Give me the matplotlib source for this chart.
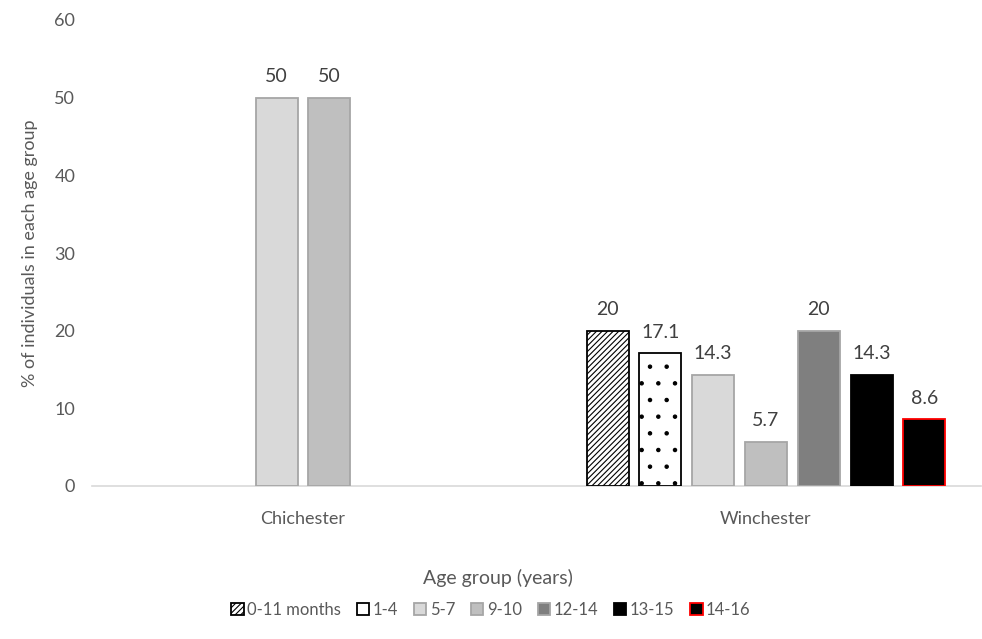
import numpy as np
import matplotlib
matplotlib.use("Agg")
import matplotlib.pyplot as plt

plt.rcParams['font.family'] = ['Lato', 'DejaVu Sans']
plt.rcParams['hatch.linewidth'] = 0.8

# data
sites = ["Chichester", "Winchester"]
age_groups = ["0-11 months", "1-4", "5-7", "9-10", "12-14", "13-15", "14-16"]
chichester = [0, 0, 50, 50, 0, 0, 0]
winchester = [20, 17.1, 14.3, 5.7, 20, 14.3, 8.6]

# styling per age group
faces = ["white", "white", "#d9d9d9", "#bfbfbf", "#7f7f7f", "black", "black"]
edges = ["black", "black", "#a6a6a6", "#a6a6a6", "#a6a6a6", "black", "red"]
hatches = ["//////", ".", None, None, None, None, None]

txt = "#595959"
fs = 13
fig = plt.figure(figsize=(9.82, 6.39), dpi=100)
ax = fig.add_axes([92/982, 1-486/639, (981-92)/982, (486-20)/639])

step = 0.114
width = 0.0907
values = [chichester, winchester]
handles = {}
for ci, vals in enumerate(values):
    idx = [i for i, v in enumerate(vals) if v > 0]
    n = len(idx)
    for k, i in enumerate(idx):
        x = ci + (k - (n - 1) / 2) * step
        b = ax.bar(x, vals[i], width, color=faces[i], edgecolor=edges[i],
                   hatch=hatches[i], linewidth=1.3, zorder=3)
        handles[i] = b
        lab = f"{vals[i]:g}"
        ax.annotate(lab, (x, vals[i]), xytext=(0, 9), textcoords="offset points",
                    ha="center", va="bottom", fontsize=14, color="#404040")

ax.set_xlim((92-303)/463, (981-303)/463)
ax.set_ylim(0, 60)
ax.set_yticks(np.arange(0, 61, 10))
ax.set_xticks(range(len(sites)))
ax.set_xticklabels(sites)
ax.tick_params(axis="both", length=0, labelsize=fs, labelcolor=txt)
ax.tick_params(axis="x", pad=18)
ax.tick_params(axis="y", pad=12)
for s in ["top", "right", "left"]:
    ax.spines[s].set_visible(False)
ax.spines["bottom"].set_color("#d9d9d9")
ax.spines["bottom"].set_linewidth(1.2)

ax.set_ylabel("% of individuals in each age group", fontsize=fs, color=txt, labelpad=12)
fig.text(498/982, 1-578/639, "Age group (years)", ha="center", va="center",
         fontsize=14, color=txt)

hl = [handles[i] for i in range(len(age_groups))]
leg = fig.legend(hl, age_groups, loc="center", bbox_to_anchor=(491/982, 1-610/639),
                 ncol=7, frameon=False, fontsize=12, handlelength=0.75,
                 handleheight=0.75, handletextpad=0.2, columnspacing=0.95,
                 labelcolor=txt)

fig.savefig("out.png", dpi=100)
